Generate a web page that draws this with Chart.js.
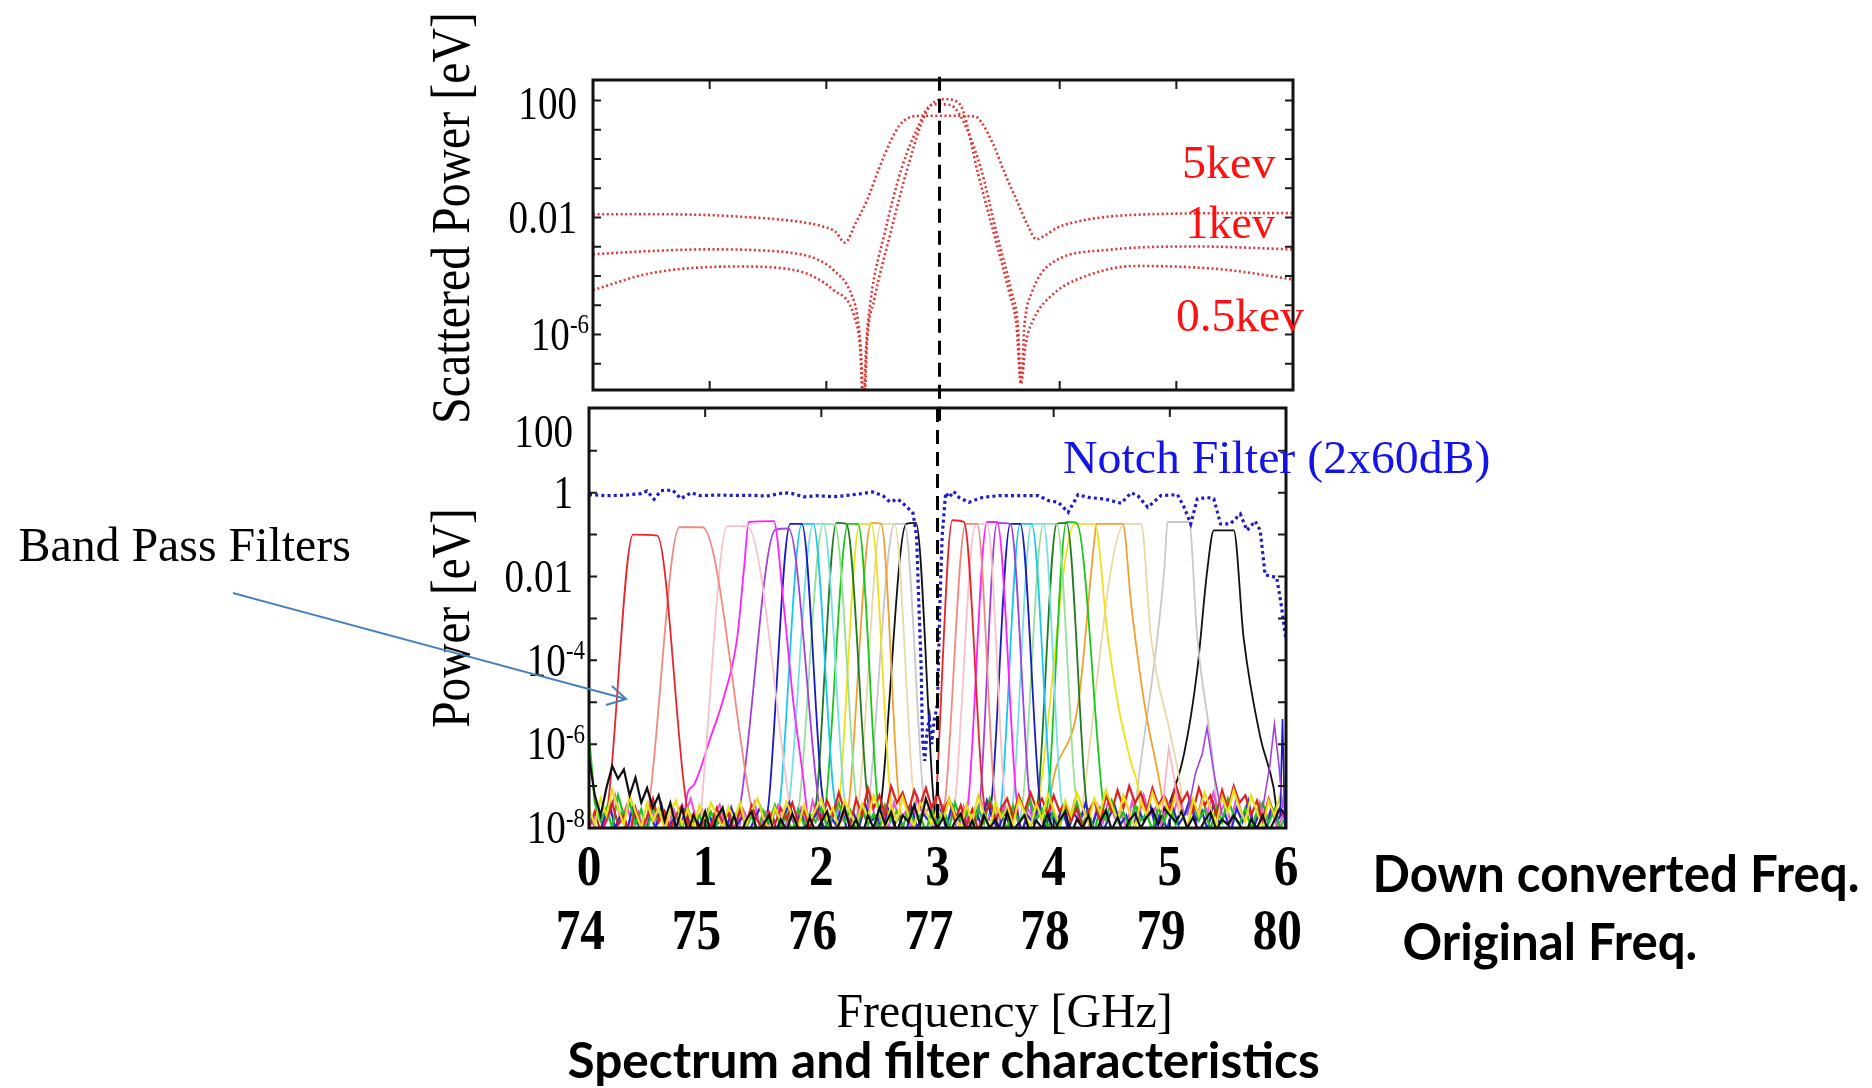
<!DOCTYPE html>
<html>
<head>
<meta charset="utf-8">
<script src="https://cdn.jsdelivr.net/npm/chart.js@4.4.0/dist/chart.umd.min.js"></script>
<style>
  html, body { margin: 0; padding: 0; background: #fff; }
  body { width: 1872px; height: 1088px; position: relative; overflow: hidden; }
  canvas { position: absolute; left: 0; }
  #topChart { top: 0; }
  #bottomChart { top: 400px; }
  .lbl { position: absolute; white-space: nowrap; line-height: 1; transform-origin: center center; }
  .serif { font-family: "Liberation Serif", "Times New Roman", serif; }
  .sans { font-family: Lato, "Open Sans", sans-serif; font-weight: 700; }
  #arrow { position: absolute; left: 0; top: 0; pointer-events: none; }
</style>
</head>
<body>
<canvas id="topChart" width="1872" height="440"></canvas>
<canvas id="bottomChart" width="1872" height="688"></canvas>

<div class="lbl serif" data-cx="451" data-cy="218" data-w="412" data-rot="1" style="font-size:54px">Scattered Power [eV]</div>
<div class="lbl serif" data-cx="451" data-cy="618" data-w="219" data-rot="1" style="font-size:54px">Power [eV]</div>
<div class="lbl serif" data-cx="184" data-cy="545" data-w="332" style="font-size:48px">Band Pass Filters</div>
<div class="lbl serif" data-cx="1276" data-cy="458" data-w="427" style="font-size:46px;color:#1414e6">Notch Filter (2x60dB)</div>
<div class="lbl serif" data-cx="1228" data-cy="163" data-w="93" style="font-size:46px;color:#ff1010">5kev</div>
<div class="lbl serif" data-cx="1230" data-cy="223" data-w="89" style="font-size:46px;color:#ff1010">1kev</div>
<div class="lbl serif" data-cx="1240" data-cy="316" data-w="128" style="font-size:46px;color:#ff1010">0.5kev</div>
<div class="lbl sans" data-cx="1616" data-cy="872" data-w="487" style="font-size:52px">Down converted Freq.</div>
<div class="lbl sans" data-cx="1550" data-cy="940" data-w="295" style="font-size:52px">Original Freq.</div>
<div class="lbl serif" data-cx="1004" data-cy="1011" data-w="336" style="font-size:48px">Frequency [GHz]</div>
<div class="lbl sans" data-cx="943" data-cy="1059" data-w="752" style="font-size:50px">Spectrum and filter characteristics</div>

<svg id="arrow" width="1872" height="1088">
  <line x1="233" y1="593" x2="626" y2="699" stroke="#4a7ebb" stroke-width="2"/>
  <polyline points="612,686 626,699 606,705" fill="none" stroke="#4a7ebb" stroke-width="2"/>
</svg>

<script>
// ---- axes ----
const freqTicks = [0, 1, 2, 3, 4, 5, 6];
const origFreqTicks = [74, 75, 76, 77, 78, 79, 80];
const topPowerTicks = [100, 0.01, 1e-6];
const topPowerLabels = [['100', ''], ['0.01', ''], ['10', '-6']];
const bottomPowerTicks = [100, 1, 0.01, 1e-4, 1e-6, 1e-8];
const bottomPowerLabels = [['100', ''], ['1', ''], ['0.01', ''], ['10', '-4'], ['10', '-6'], ['10', '-8']];
const topDecades = [1e-7, 1e-6, 1e-5, 1e-4, 1e-3, 1e-2, 0.1, 1, 10, 100];
const bottomDecades = [1e-7, 1e-6, 1e-5, 1e-4, 1e-3, 1e-2, 0.1, 1, 10];
const laserFreq = 3;

// ---- scattered spectra (upper panel) ----
const scatterX5 = [0, 0.5, 1.0, 1.33, 1.6, 1.8, 1.97, 2.08, 2.16, 2.25, 2.35, 2.45, 2.55, 2.63, 2.7, 2.78, 2.95, 3.1, 3.22, 3.28, 3.33, 3.43, 3.53, 3.63, 3.73, 3.80, 3.88, 3.98, 4.2, 4.42, 4.7, 5.0, 5.5, 6.0];
const scatter5 = [0.0129, 0.0129, 0.012, 0.0102, 0.0085, 0.0068, 0.0049, 0.0032, 0.00138, 0.0063, 0.04, 0.45, 4.0, 14.5, 25, 29.5, 30, 30, 29, 28, 17.8, 3.2, 0.32, 0.04, 0.005, 0.0018, 0.0025, 0.0045, 0.0079, 0.0107, 0.0126, 0.0135, 0.0141, 0.0141];
const scatterX1 = [0, 0.5, 0.98, 1.4, 1.72, 1.9, 2.06, 2.21, 2.27, 2.3, 2.318, 2.34, 2.38, 2.5, 2.65, 2.8, 2.87, 2.95, 3.05, 3.1, 3.17, 3.32, 3.46, 3.59, 3.64, 3.668, 3.7, 3.76, 3.93, 4.42, 5.16, 6.0];
const scatter1 = [5.5e-4, 7.1e-4, 8.1e-4, 7.6e-4, 6e-4, 4e-4, 1.6e-4, 2.6e-5, 3.2e-6, 1.6e-7, 3e-9, 3.2e-7, 1.5e-5, 2.9e-3, 0.55, 16.6, 56, 74, 71, 56, 21, 0.55, 2.9e-3, 2.6e-5, 2.5e-6, 2.5e-8, 2.5e-6, 2.6e-5, 2.7e-4, 7.8e-4, 1.02e-3, 8.1e-4];
const scatterX05 = [0, 0.49, 1.23, 1.72, 2.06, 2.24, 2.29, 2.32, 2.35, 2.41, 2.55, 2.7, 2.85, 2.95, 3.03, 3.1, 3.17, 3.3, 3.44, 3.57, 3.63, 3.668, 3.71, 3.78, 3.95, 4.18, 4.66, 5.4, 6.0];
const scatter05 = [3.3e-5, 1.23e-4, 2.1e-4, 1.6e-4, 3.3e-5, 4.1e-6, 3.2e-7, 1.6e-9, 6.3e-7, 1.5e-5, 2.9e-3, 0.55, 36, 100, 110, 100, 47, 0.32, 2.5e-3, 2.5e-5, 2e-6, 2e-8, 5e-7, 3.5e-6, 2.5e-5, 8.5e-5, 2.2e-4, 1.66e-4, 7.6e-5];

// ---- notch filter (lower panel) ----
const notchX = [0, 0.14, 0.3, 0.45, 0.5, 0.56, 0.62, 0.72, 0.79, 0.88,
  0.96, 1.1, 1.25, 1.4, 1.53, 1.68, 1.75, 1.85, 1.96, 2.1,
  2.2, 2.35, 2.44, 2.53, 2.59, 2.66, 2.74, 2.79, 2.82, 2.84,
  2.86, 2.87, 2.89, 2.91, 2.93, 2.95, 2.97, 3.0, 3.02, 3.04,
  3.07, 3.1, 3.14, 3.185, 3.27, 3.385, 3.527, 3.67, 3.869, 3.955,
  4.04, 4.125, 4.21, 4.296, 4.439, 4.581, 4.667, 4.724, 4.81, 4.923,
  5.066, 5.123, 5.18, 5.236, 5.322, 5.379, 5.436, 5.52, 5.607, 5.664,
  5.735, 5.778, 5.82, 5.92, 5.96, 6.0];
const notch = [0.9, 0.85, 0.87, 0.95, 1.1, 0.7, 1.12, 1.15, 0.72, 1.0,
  0.85, 0.88, 0.86, 0.87, 0.83, 1.0, 0.95, 0.8, 0.85, 0.8,
  0.85, 0.95, 1.05, 0.85, 0.6, 0.7, 0.45, 0.32, 0.09, 2e-3,
  6e-5, 1.5e-6, 4e-7, 2e-6, 4e-6, 1e-6, 3.5e-6, 9e-6, 2e-3, 0.09,
  1.0, 0.77, 1.07, 0.77, 0.59, 0.77, 0.85, 0.85, 0.85, 0.65,
  0.59, 0.34, 0.9, 0.77, 0.71, 0.56, 1.0, 0.85, 0.45, 0.85,
  0.9, 0.45, 0.18, 0.71, 0.77, 0.71, 0.18, 0.18, 0.31, 0.126,
  0.21, 0.126, 0.011, 0.0095, 2e-3, 3e-4];

// ---- band pass filters (lower panel) ----
const bandPassX = [
  [0.13, 0.165, 0.379, 0.587, 0.82, 0.86],
  [0.5, 0.536, 0.778, 0.977, 1.39, 1.43],
  [0.96, 0.991, 1.19, 1.362, 1.704, 1.74],
  [0.82, 0.849, 0.906, 1.048, 1.162, 1.276, 1.333, 1.376, 1.59, 1.675, 1.76, 1.846, 1.88],
  [1.27, 1.305, 1.604, 1.718, 1.96, 2.0],
  [1.52, 1.547, 1.732, 1.832, 2.0, 2.04],
  [1.62, 1.647, 1.832, 1.93, 2.1, 2.14],
  [1.70, 1.73, 1.93, 2.017, 2.188, 2.22],
  [1.79, 1.818, 2.017, 2.117, 2.288, 2.32],
  [1.93, 1.96, 2.13, 2.216, 2.387, 2.42],
  [2.02, 2.046, 2.231, 2.316, 2.473, 2.5],
  [2.13, 2.159, 2.33, 2.43, 2.587, 2.62],
  [2.22, 2.245, 2.43, 2.515, 2.658, 2.69],
  [2.30, 2.33, 2.515, 2.63, 2.786, 2.82],
  [2.39, 2.416, 2.63, 2.715, 2.87, 2.9],
  [2.50, 2.53, 2.73, 2.815, 2.957, 2.98],
  [2.98, 3.0, 3.128, 3.228, 3.385, 3.42],
  [3.04, 3.071, 3.242, 3.342, 3.484, 3.52],
  [3.13, 3.157, 3.328, 3.427, 3.57, 3.6],
  [3.24, 3.27, 3.427, 3.513, 3.67, 3.7],
  [3.34, 3.37, 3.513, 3.627, 3.784, 3.82],
  [3.44, 3.47, 3.627, 3.712, 3.869, 3.9],
  [3.53, 3.556, 3.712, 3.81, 3.969, 4.0],
  [3.63, 3.655, 3.81, 3.912, 4.054, 4.09],
  [3.71, 3.74, 3.912, 4.026, 4.182, 4.22],
  [3.84, 3.869, 4.026, 4.111, 4.268, 4.3],
  [3.93, 3.955, 4.111, 4.197, 4.41, 4.44],
  [3.85, 3.89, 4.182, 4.353, 4.467, 4.553, 4.667, 4.724, 4.76],
  [3.95, 3.983, 4.211, 4.353, 4.368, 4.595, 4.667, 4.781, 4.923, 4.96],
  [4.24, 4.268, 4.61, 4.752, 4.838, 5.009, 5.09, 5.12],
  [4.69, 4.724, 4.952, 4.98, 5.165, 5.236, 5.379, 5.41],
  [4.92, 4.952, 5.123, 5.236, 5.322, 5.379, 5.55, 5.635, 5.778, 5.892, 5.934, 5.96]
];
const bandPassY = [
  [1.5e-8, 4e-8, 0.1, 0.095, 9e-8, 1.5e-8],
  [1.5e-8, 1e-7, 0.15, 0.15, 4e-8, 1.2e-8],
  [1.5e-8, 2e-7, 0.16, 0.16, 1e-7, 1.5e-8],
  [2e-8, 6.8e-8, 1.1e-7, 1.5e-6, 1.35e-5, 3.5e-4, 0.014, 0.2, 0.21, 2.2e-3, 9.3e-6, 1.4e-7, 2e-8],
  [1.5e-8, 4e-8, 0.13, 0.14, 1e-7, 1.5e-8],
  [1.2e-8, 4e-8, 0.18, 0.18, 1e-7, 1.5e-8],
  [1.5e-8, 5e-8, 0.18, 0.18, 1e-7, 1.5e-8],
  [1.5e-8, 6e-8, 0.18, 0.18, 1e-7, 1.5e-8],
  [1.5e-8, 6e-8, 0.18, 0.17, 1e-7, 1.5e-8],
  [1.5e-8, 5e-8, 0.19, 0.18, 1e-7, 1.5e-8],
  [1.5e-8, 6e-8, 0.18, 0.18, 1e-7, 1.5e-8],
  [1.5e-8, 6e-8, 0.18, 0.18, 1e-7, 1.5e-8],
  [1.5e-8, 6e-8, 0.19, 0.18, 1e-7, 1.5e-8],
  [1.5e-8, 6e-8, 0.18, 0.18, 1e-7, 1.5e-8],
  [1.5e-8, 6e-8, 0.18, 0.18, 1e-7, 1.5e-8],
  [1.5e-8, 1e-7, 0.18, 0.19, 1e-7, 1.5e-8],
  [1.5e-8, 2e-7, 0.22, 0.2, 1e-7, 1.5e-8],
  [1.5e-8, 6e-8, 0.18, 0.18, 1e-7, 1.5e-8],
  [1.5e-8, 6e-8, 0.18, 0.18, 1e-7, 1.5e-8],
  [1.5e-8, 6e-8, 0.2, 0.2, 1e-7, 1.5e-8],
  [1.5e-8, 6e-8, 0.19, 0.18, 1e-7, 1.5e-8],
  [1.5e-8, 6e-8, 0.18, 0.18, 1e-7, 1.5e-8],
  [1.5e-8, 6e-8, 0.18, 0.18, 1e-7, 1.5e-8],
  [1.5e-8, 6e-8, 0.18, 0.18, 1e-7, 1.5e-8],
  [1.5e-8, 6e-8, 0.18, 0.18, 1e-7, 1.5e-8],
  [1.5e-8, 6e-8, 0.18, 0.19, 1e-7, 1.5e-8],
  [1.5e-8, 6e-8, 0.2, 0.19, 1e-7, 1.5e-8],
  [1.5e-8, 1e-7, 0.18, 0.18, 3.5e-4, 9.3e-6, 3.5e-7, 1e-7, 1.5e-8],
  [1.5e-8, 9e-8, 9.3e-6, 0.087, 0.18, 0.18, 2.2e-3, 9.3e-6, 8e-8, 1.5e-8],
  [1.5e-8, 9e-8, 0.18, 0.18, 3.5e-4, 1.5e-6, 1e-7, 1.5e-8],
  [1.5e-8, 1e-7, 0.014, 0.2, 0.2, 3.5e-4, 2.4e-7, 1.5e-8],
  [8e-9, 1.6e-8, 6e-7, 5.8e-5, 0.014, 0.126, 0.126, 3.5e-4, 1.5e-6, 9.5e-8, 1.3e-8, 8e-9]
];
const bandPassColors = [
  '#e8262a', '#f08a80', '#f8c0c8', '#ff20ff', '#a040e0', '#1818c8', '#18c8f0', '#78e0e0',
  '#98e098', '#1e7a1e', '#18c818', '#f0e018', '#f0a030', '#e8d8a8', '#c8c8c8', '#101010',
  '#e8262a', '#f08a80', '#f8c0c8', '#ff20ff', '#a040e0', '#1818c8', '#18c8f0', '#78e0e0',
  '#98e098', '#1e7a1e', '#18c818', '#f0e018', '#f0a030', '#e8d8a8', '#c8c8c8', '#101010'
];

// small spurious peaks near the upper band edge
const spurX = [
  [4.93, 4.99, 5.03, 5.08],
  [5.15, 5.22, 5.28, 5.32, 5.38, 5.45],
  [5.80, 5.86, 5.90, 5.94, 5.97],
  [5.95, 5.97, 5.99]
];
const spurY = [
  [2e-8, 8e-7, 2e-7, 2e-8],
  [2e-8, 2e-7, 6e-7, 2.5e-6, 2e-7, 2e-8],
  [3e-8, 3e-7, 3e-6, 3e-7, 3e-8],
  [2e-8, 4e-6, 1e-8]
];
const spurColors = ['#f8b0c0', '#a040e0', '#a040e0', '#1818c8'];

// ---- noise floor (lower panel) ----
const noiseX = [
  0, 0.05, 0.1, 0.15, 0.2, 0.25, 0.3, 0.35, 0.4, 0.45, 0.5, 0.55, 0.6, 0.65, 0.7, 0.75, 0.8, 0.85, 0.9, 0.95,
  1, 1.05, 1.1, 1.15, 1.2, 1.25, 1.3, 1.35, 1.4, 1.45, 1.5, 1.55, 1.6, 1.65, 1.7, 1.75, 1.8, 1.85, 1.9, 1.95,
  2, 2.05, 2.1, 2.15, 2.2, 2.25, 2.3, 2.35, 2.4, 2.45, 2.5, 2.55, 2.6, 2.65, 2.7, 2.75, 2.8, 2.85, 2.9, 2.95,
  3, 3.05, 3.1, 3.15, 3.2, 3.25, 3.3, 3.35, 3.4, 3.45, 3.5, 3.55, 3.6, 3.65, 3.7, 3.75, 3.8, 3.85, 3.9, 3.95,
  4, 4.05, 4.1, 4.15, 4.2, 4.25, 4.3, 4.35, 4.4, 4.45, 4.5, 4.55, 4.6, 4.65, 4.7, 4.75, 4.8, 4.85, 4.9, 4.95,
  5, 5.05, 5.1, 5.15, 5.2, 5.25, 5.3, 5.35, 5.4, 5.45, 5.5, 5.55, 5.6, 5.65, 5.7, 5.75, 5.8, 5.85, 5.9, 5.95, 6
];
const noiseX2 = [
  0.025, 0.075, 0.125, 0.175, 0.225, 0.275, 0.325, 0.375, 0.425, 0.475, 0.525, 0.575, 0.625, 0.675, 0.725, 0.775, 0.825, 0.875, 0.925, 0.975,
  1.025, 1.075, 1.125, 1.175, 1.225, 1.275, 1.325, 1.375, 1.425, 1.475, 1.525, 1.575, 1.625, 1.675, 1.725, 1.775, 1.825, 1.875, 1.925, 1.975,
  2.025, 2.075, 2.125, 2.175, 2.225, 2.275, 2.325, 2.375, 2.425, 2.475, 2.525, 2.575, 2.625, 2.675, 2.725, 2.775, 2.825, 2.875, 2.925, 2.975,
  3.025, 3.075, 3.125, 3.175, 3.225, 3.275, 3.325, 3.375, 3.425, 3.475, 3.525, 3.575, 3.625, 3.675, 3.725, 3.775, 3.825, 3.875, 3.925, 3.975,
  4.025, 4.075, 4.125, 4.175, 4.225, 4.275, 4.325, 4.375, 4.425, 4.475, 4.525, 4.575, 4.625, 4.675, 4.725, 4.775, 4.825, 4.875, 4.925, 4.975,
  5.025, 5.075, 5.125, 5.175, 5.225, 5.275, 5.325, 5.375, 5.425, 5.475, 5.525, 5.575, 5.625, 5.675, 5.725, 5.775, 5.825, 5.875, 5.925, 5.975
];
const noiseBlack = [
  5e-7, 6e-8, 2e-8, 9e-8, 3e-7, 1.5e-7, 2.5e-7, 6e-8, 1.6e-7, 4e-8, 9e-8, 3e-8, 6e-8, 1.5e-8, 4e-8, 1e-8, 3e-8, 8e-9, 2e-8, 1e-8,
  2.5e-8, 7e-9, 1.8e-8, 3e-8, 9e-9, 2e-8, 6e-9, 1.5e-8, 2.5e-8, 8e-9, 1.2e-8, 2e-8, 7e-9, 1.6e-8, 9e-9, 2.2e-8, 1e-8, 6e-9, 1.8e-8, 8e-9,
  1.4e-8, 2.5e-8, 7e-9, 1.2e-8, 3e-8, 9e-9, 1.6e-8, 6e-9, 2e-8, 1e-8, 3e-8, 1.2e-8, 2.4e-8, 8e-9, 2e-8, 1.4e-8, 3.5e-8, 1.2e-8, 5e-8, 2e-8,
  1e-8, 1.8e-8, 7e-9, 1.4e-8, 2.2e-8, 8e-9, 1.5e-8, 6e-9, 2e-8, 1e-8, 1.6e-8, 7e-9, 2.4e-8, 9e-9, 1.3e-8, 2e-8, 7e-9, 1.5e-8, 1e-8, 2.2e-8,
  8e-9, 1.5e-8, 2.5e-8, 7e-9, 1.6e-8, 1e-8, 2e-8, 6e-9, 1.4e-8, 2.6e-8, 9e-9, 1.8e-8, 7e-9, 1.5e-8, 2.2e-8, 1e-8, 1.8e-8, 2.8e-8, 1.2e-8, 3e-8,
  2e-8, 1.4e-8, 2.5e-8, 1e-8, 1.8e-8, 8e-9, 1.5e-8, 2.4e-8, 9e-9, 1.6e-8, 1.2e-8, 2e-8, 1.2e-8, 7e-9, 1.6e-8, 1e-8, 2e-8, 8e-9, 1.5e-8, 3e-8, 2e-8
];
const noiseYellow = [
  3e-8, 1.2e-8, 5e-8, 2e-8, 8e-8, 3e-8, 1.2e-8, 6e-8, 2.5e-8, 1e-8, 4e-8, 1.5e-8, 3e-8, 9e-9, 2.5e-8, 4.5e-8, 1.2e-8, 2.8e-8, 1e-8, 3.5e-8,
  1.4e-8, 4e-8, 2e-8, 1e-8, 3.2e-8, 1.6e-8, 4e-8, 1.1e-8, 2.6e-8, 5e-8, 1.8e-8, 9e-9, 3e-8, 1.5e-8, 4.2e-8, 2e-8, 1e-8, 3.6e-8, 1.4e-8, 2.8e-8,
  5e-8, 1.6e-8, 3e-8, 1e-8, 4.5e-8, 2.2e-8, 1.2e-8, 3.8e-8, 1.8e-8, 6e-8, 2.4e-8, 1e-8, 3.4e-8, 1.5e-8, 5.5e-8, 2e-8, 1.1e-8, 4e-8, 2.5e-8, 1.2e-8,
  3e-8, 1.5e-8, 5e-8, 2e-8, 1e-8, 3.6e-8, 1.4e-8, 6e-8, 2.2e-8, 1e-8, 4e-8, 1.8e-8, 3e-8, 1.2e-8, 5e-8, 2.4e-8, 1e-8, 3.8e-8, 1.6e-8, 6.5e-8,
  2.8e-8, 1.2e-8, 4.5e-8, 2e-8, 7e-8, 3e-8, 1.4e-8, 5e-8, 2.2e-8, 8e-8, 3.5e-8, 1.5e-8, 6e-8, 2.5e-8, 1e-8, 4.5e-8, 2e-8, 7e-8, 3e-8, 5e-8,
  2e-8, 6e-8, 2.5e-8, 1e-8, 5e-8, 2e-8, 7e-8, 3e-8, 1.2e-8, 5.5e-8, 2.4e-8, 8e-8, 3e-8, 1.4e-8, 6e-8, 2.5e-8, 1e-8, 4.5e-8, 2e-8, 6e-8, 3e-8
];
const noiseRed = [
  1e-8, 2.5e-8, 8e-9, 1.6e-8, 4e-8, 1.2e-8, 2e-8, 7e-9, 3e-8, 1e-8, 1.8e-8, 5e-8, 1.4e-8, 2.5e-8, 9e-9, 2e-8, 3.5e-8, 1.2e-8, 2.2e-8, 8e-9,
  2e-8, 1e-8, 3e-8, 1.4e-8, 2.2e-8, 8e-9, 2.6e-8, 1.2e-8, 3.5e-8, 1.5e-8, 9e-9, 2.4e-8, 1.2e-8, 3e-8, 1.6e-8, 4e-8, 1.4e-8, 2.6e-8, 1e-8, 3.2e-8,
  1.5e-8, 4.5e-8, 2e-8, 7e-8, 2.5e-8, 1.2e-8, 5e-8, 2e-8, 9e-8, 3e-8, 6e-8, 2e-8, 1e-7, 4e-8, 7e-8, 2.5e-8, 8e-8, 3.5e-8, 9e-8, 3e-8,
  7e-8, 2.5e-8, 5e-8, 1.5e-8, 3.5e-8, 1.2e-8, 2.8e-8, 9e-9, 2e-8, 4e-8, 1.5e-8, 3e-8, 5e-8, 1.8e-8, 6e-8, 2.5e-8, 7e-8, 3e-8, 5e-8, 2e-8,
  6e-8, 2.5e-8, 4e-8, 1.5e-8, 3e-8, 1e-8, 2.5e-8, 4.5e-8, 1.5e-8, 6e-8, 2.5e-8, 8e-8, 3e-8, 1e-7, 4e-8, 7e-8, 2.5e-8, 9e-8, 3.5e-8, 6e-8,
  2.5e-8, 1.1e-7, 4e-8, 7e-8, 2.5e-8, 9e-8, 3.5e-8, 6e-8, 2e-8, 8e-8, 3e-8, 1e-7, 4e-8, 6e-8, 2e-8, 4.5e-8, 1.5e-8, 5e-8, 2e-8, 3e-8, 1.5e-8
];
const noiseGreen = [
  1.5e-6, 4e-8, 1.5e-8, 3e-8, 1e-8, 6e-8, 2e-8, 4e-8, 1.2e-8, 2.8e-8, 8e-9, 3.5e-8, 1.4e-8, 2.5e-8, 7e-9, 2e-8, 1e-8, 3e-8, 1.2e-8, 2e-8,
  9e-9, 2.4e-8, 1.2e-8, 3e-8, 8e-9, 1.8e-8, 3.2e-8, 1e-8, 2e-8, 7e-9, 2.6e-8, 1.4e-8, 3.5e-8, 1e-8, 2e-8, 8e-9, 2.8e-8, 1.2e-8, 2.2e-8, 1.4e-8,
  3e-8, 1e-8, 2e-8, 4e-8, 1.4e-8, 2.6e-8, 8e-9, 3e-8, 1.2e-8, 2.2e-8, 9e-9, 3.5e-8, 1.5e-8, 2.5e-8, 1e-8, 3e-8, 1.4e-8, 2e-8, 8e-9, 2.6e-8,
  1.2e-8, 3.2e-8, 1e-8, 4e-8, 1.6e-8, 2.4e-8, 8e-9, 3e-8, 1.3e-8, 5e-8, 1.8e-8, 2.5e-8, 9e-9, 3.4e-8, 1.4e-8, 2.2e-8, 4.5e-8, 1.5e-8, 2.8e-8, 1e-8,
  2.5e-8, 1e-8, 3.5e-8, 1.5e-8, 4e-8, 1.2e-8, 2.6e-8, 8e-9, 3e-8, 1.6e-8, 4.5e-8, 1.4e-8, 2.4e-8, 1e-8, 3.6e-8, 1.5e-8, 2.2e-8, 9e-9, 3e-8, 1.4e-8,
  3.5e-8, 1.2e-8, 2.6e-8, 1e-8, 4e-8, 1.5e-8, 2.8e-8, 9e-9, 3.2e-8, 1.4e-8, 5e-8, 2e-8, 1.2e-8, 3e-8, 1e-8, 2.4e-8, 4e-8, 1.3e-8, 2.8e-8, 1e-8, 2e-8
];
const noiseBlue = [
  2e-8, 6e-9, 1.5e-8, 4e-8, 1e-8, 2.2e-8, 8e-9, 3e-8, 1.2e-8, 5e-9, 2e-8, 1e-8, 3.5e-8, 9e-9, 1.6e-8, 6e-9, 2.5e-8, 1e-8, 1.8e-8, 7e-9,
  2.6e-8, 1e-8, 1.5e-8, 6e-9, 3e-8, 1.2e-8, 2e-8, 8e-9, 1.6e-8, 3.2e-8, 1e-8, 2.2e-8, 7e-9, 1.8e-8, 4e-8, 1.1e-8, 2.4e-8, 8e-9, 1.5e-8, 2.8e-8,
  9e-9, 2e-8, 1.2e-8, 3e-8, 8e-9, 2.4e-8, 1e-8, 4e-8, 1.4e-8, 2e-8, 7e-9, 2.8e-8, 1.2e-8, 1.8e-8, 6e-9, 3.2e-8, 1e-8, 2.2e-8, 1.5e-8, 9e-9,
  2.5e-8, 1e-8, 3.5e-8, 1.4e-8, 2e-8, 7e-9, 2.8e-8, 1.2e-8, 4.5e-8, 1.6e-8, 9e-9, 2.4e-8, 1.1e-8, 3e-8, 8e-9, 2e-8, 1.3e-8, 3.6e-8, 1e-8, 2.2e-8,
  1.2e-8, 3e-8, 9e-9, 2.2e-8, 1.4e-8, 4e-8, 1e-8, 2.6e-8, 8e-9, 1.8e-8, 3.4e-8, 1.2e-8, 2e-8, 7e-9, 2.8e-8, 1.5e-8, 4.2e-8, 1.1e-8, 2.4e-8, 9e-9,
  3e-8, 1.2e-8, 2e-8, 5e-8, 1.5e-8, 2.6e-8, 9e-9, 3.8e-8, 1.3e-8, 2.2e-8, 8e-9, 3e-8, 1.4e-8, 4.5e-8, 1.1e-8, 2.4e-8, 7e-9, 3.2e-8, 1.5e-8, 2.5e-8
];
const noisePink = [
  1.2e-8, 3e-8, 1e-8, 2e-8, 6e-8, 1.5e-8, 3.5e-8, 1.1e-8, 2.4e-8, 8e-9, 4e-8, 1.4e-8, 2.2e-8, 7e-9, 3e-8, 1.2e-8, 2e-8, 5e-8, 1.5e-8, 2.6e-8,
  8e-9, 2.2e-8, 3.6e-8, 1.2e-8, 1.8e-8, 6e-9, 2.8e-8, 1.4e-8, 4e-8, 1e-8, 2.4e-8, 1.6e-8, 3.4e-8, 9e-9, 2e-8, 1.2e-8, 3e-8, 1e-8, 4.4e-8, 1.6e-8,
  2.6e-8, 1e-8, 3.8e-8, 1.5e-8, 2.2e-8, 6e-9, 3e-8, 1.8e-8, 5e-8, 1.2e-8, 2.6e-8, 9e-9, 4e-8, 1.6e-8, 2.4e-8, 1e-8, 5.5e-8, 2e-8, 3e-8, 1.2e-8,
  4e-8, 1.4e-8, 2.4e-8, 8e-9, 3.2e-8, 1.2e-8, 2e-8, 4.5e-8, 1.5e-8, 2.6e-8, 1e-8, 3.6e-8, 1.3e-8, 2.2e-8, 6e-9, 3e-8, 1.6e-8, 2.4e-8, 9e-9, 3.4e-8,
  1.5e-8, 2.8e-8, 1e-8, 4e-8, 1.6e-8, 2.4e-8, 8e-9, 3.5e-8, 1.4e-8, 5e-8, 1.8e-8, 2.6e-8, 1e-8, 4.2e-8, 1.5e-8, 6e-8, 2e-8, 3e-8, 1.2e-8, 4.5e-8,
  1.8e-8, 6e-8, 2e-8, 3.5e-8, 1.2e-8, 5e-8, 2.4e-8, 7e-8, 2e-8, 4e-8, 1.4e-8, 5.5e-8, 2e-8, 3e-8, 1e-8, 4e-8, 1.5e-8, 2.8e-8, 1e-8, 2e-8
];
const noiseColors = ['#101010', '#e8e010', '#e02020', '#20c020', '#2828d0', '#e858d8'];

// ---------------------------------------------------------------

const pts = (xs, ys) => xs.map((x, i) => ({ x, y: ys[i] })).filter(p => p.y !== undefined);

function drawTickText(ctx, x, cy, text, sup, size, sx, align, weight) {
  const main = `${weight}${size}px "Liberation Serif"`;
  const small = `${weight}${Math.round(size * 0.58)}px "Liberation Serif"`;
  ctx.font = main;
  const wm = ctx.measureText(text).width;
  ctx.font = small;
  const ws = sup ? ctx.measureText(sup).width : 0;
  const total = wm + ws;
  const x0 = align === 'right' ? -total : align === 'center' ? -total / 2 : 0;
  ctx.save();
  ctx.translate(x, cy + size * 0.33);
  ctx.scale(sx, 1);
  ctx.textAlign = 'left';
  ctx.textBaseline = 'alphabetic';
  ctx.font = main;
  ctx.fillText(text, x0, 0);
  if (sup) {
    ctx.font = small;
    ctx.fillText(sup, x0 + wm, -size * 0.36);
  }
  ctx.restore();
}

// frame, inward tick marks and tick labels
function frameDecor(cfg) {
  return {
    id: 'frameDecor',
    afterDraw(chart) {
      const { ctx, chartArea: a, scales } = chart;
      ctx.save();
      ctx.strokeStyle = '#1a1a1a';
      ctx.lineWidth = 2;
      ctx.beginPath();
      cfg.xMarks.forEach(v => {
        const px = scales.x.getPixelForValue(v);
        ctx.moveTo(px, a.top); ctx.lineTo(px, a.top + 9);
        ctx.moveTo(px, a.bottom); ctx.lineTo(px, a.bottom - 9);
      });
      cfg.yMarks.forEach(v => {
        const py = scales.y.getPixelForValue(v);
        ctx.moveTo(a.left, py); ctx.lineTo(a.left + 8, py);
        ctx.moveTo(a.right, py); ctx.lineTo(a.right - 8, py);
      });
      ctx.stroke();
      ctx.lineWidth = 3;
      ctx.strokeStyle = '#111';
      ctx.strokeRect(a.left, a.top, a.right - a.left, a.bottom - a.top);
      ctx.fillStyle = '#000';
      cfg.yTicks.forEach((v, i) => {
        const [base, sup] = cfg.yLabels[i];
        // keep a label that sits on the top edge inside the frame height
        const py = Math.max(scales.y.getPixelForValue(v), a.top + 24);
        drawTickText(ctx, a.left - (sup ? 4 : 16), py, base, sup, 46, 0.85, 'right', '');
      });
      (cfg.xRows || []).forEach(r => r.ticks.forEach(v => {
        drawTickText(ctx, scales[r.scale].getPixelForValue(v), a.bottom + r.offset, String(v), '', 56, 0.88, 'center', 'bold ');
      }));
      ctx.restore();
    }
  };
}

const dashed = { borderColor: '#000', borderWidth: 3, borderDash: [14, 8], pointRadius: 0, tension: 0, clip: false, order: 0 };

// ---- upper panel ----
const redDots = { borderColor: '#e03434', borderWidth: 2.6, borderDash: [2, 2.6], pointRadius: 0, cubicInterpolationMode: 'monotone', order: 1 };
new Chart(document.getElementById('topChart'), {
  type: 'line',
  data: {
    datasets: [
      { ...dashed, data: [{ x: laserFreq - 0.03, y: 650 }, { x: laserFreq - 0.03, y: 1e-9 }] },
      { ...redDots, label: '5kev', data: pts(scatterX5, scatter5) },
      { ...redDots, label: '1kev', data: pts(scatterX1, scatter1) },
      { ...redDots, label: '0.5kev', data: pts(scatterX05, scatter05) }
    ]
  },
  options: {
    responsive: false,
    animation: false,
    events: [],
    layout: { padding: { left: 593, right: 579, top: 80, bottom: 50 } },
    plugins: { legend: { display: false }, tooltip: { enabled: false } },
    scales: {
      x: { type: 'linear', min: 0, max: 6, display: false },
      y: { type: 'logarithmic', min: 1.26e-8, max: 500, display: false }
    }
  },
  plugins: [frameDecor({ xMarks: [1, 2, 4, 5], yMarks: topDecades, yTicks: topPowerTicks, yLabels: topPowerLabels })]
});

// ---- lower panel ----
const bottomSets = [
  { ...dashed, data: [{ x: laserFreq, y: 105 }, { x: laserFreq, y: 1e-8 }] },
  { label: 'Notch Filter (2x60dB)', data: pts(notchX, notch), borderColor: '#1c1cc8', borderWidth: 3.2,
    borderDash: [3, 3.2], pointRadius: 0, tension: 0, order: 1 }
];
spurX.forEach((xs, i) => bottomSets.push({ data: pts(xs, spurY[i]), borderColor: spurColors[i], borderWidth: 1.6,
  pointRadius: 0, tension: 0, order: 2 }));
[[noiseX, noiseBlack], [noiseX, noiseYellow], [noiseX, noiseRed], [noiseX, noiseGreen], [noiseX2, noiseBlue], [noiseX2, noisePink]]
  .forEach(([xs, ys], i) => bottomSets.push({ data: pts(xs, ys), borderColor: noiseColors[i], borderWidth: 2.2,
    pointRadius: 0, tension: 0, order: 3 }));
bandPassX.forEach((xs, i) => bottomSets.push({ label: 'BPF ' + (i + 1), data: pts(xs, bandPassY[i]),
  borderColor: bandPassColors[i], borderWidth: 1.8, pointRadius: 0, cubicInterpolationMode: 'monotone', order: 4 }));

new Chart(document.getElementById('bottomChart'), {
  type: 'line',
  data: { datasets: bottomSets.map(d => ({ xAxisID: 'x', yAxisID: 'y', fill: false, ...d })) },
  options: {
    responsive: false,
    animation: false,
    events: [],
    layout: { padding: { left: 589, right: 586, top: 8, bottom: 260 } },
    plugins: { legend: { display: false }, tooltip: { enabled: false } },
    scales: {
      x: { type: 'linear', min: 0, max: 6, display: false },
      x2: { type: 'linear', min: 74.075, max: 80.075, display: false },
      y: { type: 'logarithmic', min: 1e-8, max: 105, display: false }
    }
  },
  plugins: [frameDecor({
    xMarks: [1, 2, 4, 5], yMarks: bottomDecades, yTicks: bottomPowerTicks, yLabels: bottomPowerLabels,
    xRows: [{ scale: 'x', ticks: freqTicks, offset: 39 }, { scale: 'x2', ticks: origFreqTicks, offset: 103 }]
  })]
});

// place and fit the text labels
document.querySelectorAll('.lbl').forEach(el => {
  const w = el.offsetWidth, h = el.offsetHeight;
  const s = (+el.dataset.w) / w;
  el.style.left = (el.dataset.cx - w / 2) + 'px';
  el.style.top = (el.dataset.cy - h / 2) + 'px';
  el.style.transform = (el.dataset.rot ? 'rotate(-90deg) ' : '') + `scaleX(${s})`;
});
</script>
</body>
</html>
